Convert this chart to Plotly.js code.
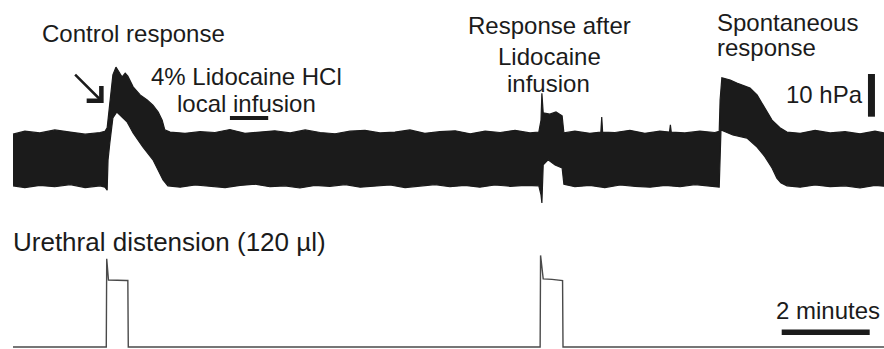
<!DOCTYPE html>
<html>
<head>
<meta charset="utf-8">
<script src="https://cdn.plot.ly/plotly-3.0.1.min.js"></script>
<style>html,body{margin:0;padding:0;background:#fff;}#chart{width:884px;height:349px;}</style>
</head>
<body>
<div id="chart"></div>
<script>
// Time in minutes; bladder pressure envelope (hPa, relative); distension volume (µl)
const upperTime = [0, 0.27, 0.61, 0.95, 1.30, 1.64, 1.98, 2.09, 2.14, 2.20, 2.27, 2.34, 2.41, 2.48, 2.55, 2.61, 2.73, 2.89, 3.05, 3.18, 3.30, 3.39, 3.45, 3.57, 3.91, 4.25, 4.59, 4.93, 5.27, 5.61, 5.95, 6.30, 6.64, 6.98, 7.32, 7.66, 8.00, 8.34, 8.68, 9.02, 9.36, 9.70, 10.05, 10.39, 10.73, 11.07, 11.41, 11.75, 11.95, 12.00, 12.02, 12.05, 12.20, 12.34, 12.48, 12.52, 12.77, 13.11, 13.36, 13.38, 13.40, 13.68, 14.02, 14.36, 14.70, 14.92, 14.94, 14.96, 15.27, 15.61, 15.95, 16.05, 16.07, 16.11, 16.30, 16.45, 16.61, 16.75, 16.91, 17.05, 17.16, 17.25, 17.43, 17.59, 17.89, 18.23, 18.57, 18.91, 19.25, 19.59, 19.80];
const upperPressure = [12.6, 13.3, 12.9, 13.6, 13.1, 12.6, 13.0, 13.3, 14.1, 20.6, 26.5, 28.3, 27.2, 26.0, 26.9, 26.2, 23.7, 21.8, 20.6, 19.4, 17.8, 15.9, 13.6, 13.1, 12.8, 13.2, 13.0, 13.7, 12.8, 13.1, 13.4, 12.9, 13.6, 13.0, 12.7, 13.3, 13.5, 12.9, 13.1, 13.6, 12.8, 13.2, 13.4, 12.7, 13.3, 13.0, 13.5, 12.9, 13.1, 15.9, 22.2, 17.6, 17.3, 17.8, 16.9, 12.9, 13.3, 12.8, 13.1, 16.6, 13.1, 13.0, 13.5, 12.8, 13.3, 13.1, 14.8, 13.1, 12.9, 13.3, 13.0, 13.3, 20.6, 25.8, 25.3, 24.6, 23.9, 23.4, 21.8, 19.4, 17.6, 15.9, 14.1, 13.1, 12.8, 13.5, 12.9, 13.2, 12.7, 13.3, 12.9];

const lowerTime = [0, 0.27, 0.61, 0.95, 1.30, 1.64, 1.98, 2.09, 2.14, 2.16, 2.20, 2.27, 2.36, 2.48, 2.59, 2.73, 2.95, 3.18, 3.34, 3.41, 3.52, 3.80, 4.14, 4.48, 4.82, 5.16, 5.50, 5.84, 6.18, 6.52, 6.86, 7.20, 7.55, 7.89, 8.23, 8.57, 8.91, 9.25, 9.59, 9.93, 10.27, 10.61, 10.95, 11.30, 11.64, 11.95, 12.00, 12.02, 12.05, 12.16, 12.32, 12.48, 12.52, 12.77, 13.11, 13.45, 13.80, 14.14, 14.48, 14.82, 15.16, 15.50, 15.84, 16.05, 16.09, 16.36, 16.68, 16.91, 17.09, 17.25, 17.36, 17.45, 17.59, 17.89, 18.23, 18.57, 18.91, 19.25, 19.59, 19.80];
const lowerPressure = [0.5, 0.1, 0.6, 0.3, 0.8, 0.1, 0.5, 0.2, -0.5, 6.6, 10.5, 16.4, 17.8, 16.6, 15.5, 12.9, 9.6, 6.6, 3.5, 1.9, 0.5, 0.2, 0.7, 0.4, 0.1, 0.6, 0.9, 0.3, 0.5, 0.0, 0.6, 0.4, 0.8, 0.2, 0.5, 0.7, 0.1, 0.4, 0.8, 0.3, 0.6, 0.2, 0.7, 0.4, 0.6, 0.5, -1.6, -3.5, 5.4, 6.6, 5.4, 4.7, 0.9, 0.3, 0.6, 0.1, 0.7, 0.4, 0.2, 0.6, 0.3, 0.8, 0.4, 0.2, 13.6, 12.4, 11.7, 9.6, 7.3, 4.7, 2.3, 1.2, 0.5, 0.2, 0.7, 0.3, 0.5, 0.0, 0.6, 0.4];

const distTime = [0, 2.11, 2.12, 2.13, 2.17, 2.58, 2.61, 2.62, 11.97, 11.98, 11.99, 12.05, 12.25, 12.47, 12.49, 12.50, 19.80];
const distVolume = [0, 0, 0, 158, 120, 119, 119, 0, 0, 0, 164, 122, 121, 119, 119, 0, 0];

const infusionTime = [4.93, 5.80];
const timeBarMinutes = [17.47, 19.47];
const pressureBarHpa = [16.7, 26.7];

const ink = '#1b1b1b';
const font = 'Liberation Sans, Arial, sans-serif';

const traces = [
  {x: lowerTime, y: lowerPressure, type: 'scatter', mode: 'lines', line: {color: ink, width: 1.2}, xaxis: 'x', yaxis: 'y', hoverinfo: 'skip'},
  {x: upperTime, y: upperPressure, type: 'scatter', mode: 'lines', line: {color: ink, width: 1.2}, fill: 'tonexty', fillcolor: ink, xaxis: 'x', yaxis: 'y', hoverinfo: 'skip'},
  {x: distTime, y: distVolume, type: 'scatter', mode: 'lines', line: {color: '#4a4a4a', width: 1.4}, xaxis: 'x', yaxis: 'y2', hoverinfo: 'skip'}
];

function px(x) { return x / 884; }
function py(y) { return 1 - y / 349; }
function label(text, x, y, anchor, size) {
  return {text: text, xref: 'paper', yref: 'paper', x: px(x), y: py(y), xanchor: anchor, yanchor: 'middle', showarrow: false, font: {family: font, size: size || 24, color: ink}};
}

const annotations = [
  label('Control response', 133.5, 33, 'center'),
  label('4% Lidocaine HCl', 246.5, 76, 'center'),
  label('local infusion', 246.5, 103, 'center'),
  label('Response after', 549.5, 26, 'center'),
  label('Lidocaine', 549, 56, 'center'),
  label('infusion', 548.5, 84, 'center'),
  label('Spontaneous', 715, 23, 'left'),
  label('response', 715, 48, 'left'),
  label('10 hPa', 865, 94, 'right'),
  label('Urethral distension (120 µl)', 11, 242, 'left', 26),
  label('2 minutes', 827.5, 310, 'center'),
  {text: '', x: 2.06, y: 19.9, xref: 'x', yref: 'y', showarrow: true, ax: -30, ay: -30, arrowhead: 4, arrowsize: 1.6, arrowwidth: 2.5, arrowcolor: ink, standoff: 0}
];

const shapes = [
  {type: 'line', xref: 'x', yref: 'y', x0: infusionTime[0], x1: infusionTime[1], y0: 16.4, y1: 16.4, line: {color: ink, width: 4}},
  {type: 'line', xref: 'x', yref: 'y', x0: 19.51, x1: 19.51, y0: pressureBarHpa[0], y1: pressureBarHpa[1], line: {color: ink, width: 7}},
  {type: 'line', xref: 'x', yref: 'y2', x0: timeBarMinutes[0], x1: timeBarMinutes[1], y0: 26.3, y1: 26.3, line: {color: ink, width: 5.5}}
];

const layout = {
  width: 884, height: 349,
  margin: {l: 0, r: 0, t: 0, b: 0},
  paper_bgcolor: '#fff', plot_bgcolor: '#fff',
  showlegend: false,
  xaxis: {range: [-0.2955, 19.795], visible: false, fixedrange: true},
  yaxis: {domain: [0.384, 1], range: [-6.32, 44.03], visible: false, fixedrange: true},
  yaxis2: {domain: [0, 0.384], range: [-3.58, 236.4], visible: false, fixedrange: true},
  annotations: annotations,
  shapes: shapes
};

Plotly.newPlot('chart', traces, layout, {displayModeBar: false, staticPlot: true});
</script>
</body>
</html>
